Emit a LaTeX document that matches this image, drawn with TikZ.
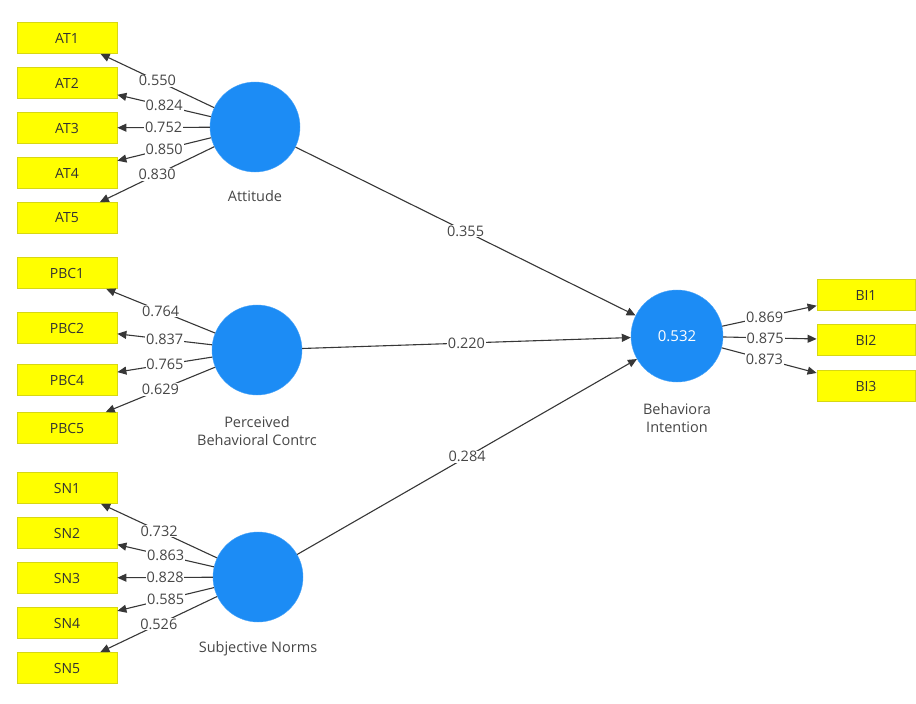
\documentclass[tikz,border=0pt]{standalone}
\usepackage{fontspec}
\setmainfont{Open Sans}
\usetikzlibrary{arrows.meta}
\definecolor{indfill}{RGB}{255,255,0}
\definecolor{indborder}{RGB}{215,215,20}
\definecolor{latblue}{RGB}{28,140,245}
\definecolor{linegray}{RGB}{55,55,55}
\definecolor{labgray}{RGB}{70,70,70}
\begin{document}
\begin{tikzpicture}[x=1pt,y=-1pt,
  ind/.style={draw=indborder, fill=indfill, line width=0.8pt, minimum width=100pt, minimum height=31pt, inner sep=0pt, font=\fontsize{14}{16}\selectfont, text=black!80},
  lat/.style={circle, fill=latblue, draw=latblue!80!white, minimum size=90pt, inner sep=0pt},
  ld/.style={-{Triangle[length=9pt,width=8pt]}, draw=linegray, line width=1.1pt},
  lbl/.style={fill=white, inner sep=0.8pt, font=\fontsize{14.5}{16}\selectfont, text=labgray},
  latlbl/.style={font=\fontsize{14.5}{18}\selectfont, text=labgray, align=center}]
\useasboundingbox (0,0) rectangle (916,704);
% indicators
\node[ind] (AT1) at (67,38) {AT1};
\node[ind] (AT2) at (67,83) {AT2};
\node[ind] (AT3) at (67,128) {AT3};
\node[ind] (AT4) at (67,173) {AT4};
\node[ind] (AT5) at (67,218) {AT5};
\node[ind] (PBC1) at (67,273) {PBC1};
\node[ind] (PBC2) at (67,328) {PBC2};
\node[ind] (PBC4) at (67,380) {PBC4};
\node[ind] (PBC5) at (67,428) {PBC5};
\node[ind] (SN1) at (67,488) {SN1};
\node[ind] (SN2) at (67,533) {SN2};
\node[ind] (SN3) at (67,578) {SN3};
\node[ind] (SN4) at (67,623) {SN4};
\node[ind] (SN5) at (67,668) {SN5};
\node[ind, minimum width=98pt] (BI1) at (866,295) {BI1};
\node[ind, minimum width=98pt] (BI2) at (866,340) {BI2};
\node[ind, minimum width=98pt] (BI3) at (866,386) {BI3};
% latent variables
\node[lat] (att) at (255,127) {};
\node[lat] (pbc) at (257,350) {};
\node[lat] (sn) at (258,577) {};
\node[lat, minimum size=92pt, font=\fontsize{15}{17}\selectfont, text=white] (bi) at (677,336) {0.532};
\node[latlbl] (attL) at (255,196) {Attitude};
\node[latlbl] (pbcL) at (257,431) {Perceived\\Behavioral Contrc};
\node[latlbl] (snL) at (258,649) {Subjective Norms};
\node[latlbl] (biL) at (677,418) {Behaviora\\Intention};
% outer loadings
\draw[ld] (att) -- node[lbl,pos=.5]{0.550} (AT1);
\draw[ld] (att) -- node[lbl,pos=.5]{0.824} (AT2);
\draw[ld] (att) -- node[lbl,pos=.5]{0.752} (AT3);
\draw[ld] (att) -- node[lbl,pos=.5]{0.850} (AT4);
\draw[ld] (att) -- node[lbl,pos=.5]{0.830} (AT5);
\draw[ld] (pbc) -- node[lbl,pos=.5]{0.764} (PBC1);
\draw[ld] (pbc) -- node[lbl,pos=.5]{0.837} (PBC2);
\draw[ld] (pbc) -- node[lbl,pos=.5]{0.765} (PBC4);
\draw[ld] (pbc) -- node[lbl,pos=.5]{0.629} (PBC5);
\draw[ld] (sn) -- node[lbl,pos=.5]{0.732} (SN1);
\draw[ld] (sn) -- node[lbl,pos=.5]{0.863} (SN2);
\draw[ld] (sn) -- node[lbl,pos=.5]{0.828} (SN3);
\draw[ld] (sn) -- node[lbl,pos=.5]{0.585} (SN4);
\draw[ld] (sn) -- node[lbl,pos=.5]{0.526} (SN5);
\draw[ld] (bi) -- node[lbl,pos=.45]{0.869} (BI1);
\draw[ld] (bi) -- node[lbl,pos=.45]{0.875} (BI2);
\draw[ld] (bi) -- node[lbl,pos=.45]{0.873} (BI3);
% structural paths
\draw[ld] (att) -- node[lbl,pos=.5]{0.355} (bi);
\draw[ld] (pbc) -- node[lbl,pos=.5]{0.220} (bi);
\draw[ld] (sn) -- node[lbl,pos=.5]{0.284} (bi);
\end{tikzpicture}
\end{document}
